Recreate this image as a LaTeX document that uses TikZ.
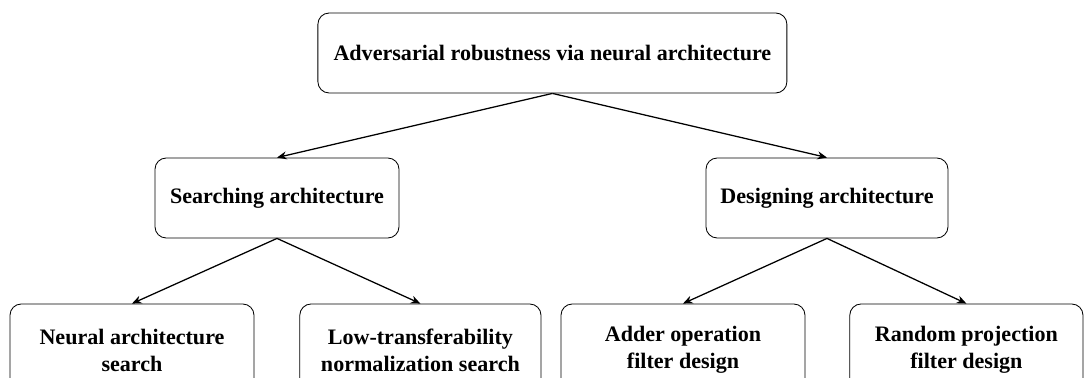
\documentclass[tikz,border=0pt]{standalone}
\usepackage{fontspec}
\setmainfont{Liberation Serif}
\usetikzlibrary{arrows.meta, positioning}

\begin{document}
\begin{tikzpicture}[
    box/.style={rectangle, draw, line width=0.6pt, rounded corners=8pt, minimum width=#1, minimum height=2cm, align=center, inner sep=2pt, font=\fontsize{15.7}{19.2}\selectfont\bfseries},
    box/.default=6.1cm,
    leaf/.style={box=#1, minimum height=2.3cm},
    leaf/.default=6.1cm,
    arrow/.style={-{Stealth[length=2.4mm, width=2mm]}, line width=0.9pt}
]
\clip (0,0) rectangle (27.125,-9.45);

% Root
\node[box=11.725cm] (root) at (13.81,-1.325) {Adversarial robustness via neural architecture};

% Second level
\node[box=6.1cm] (search) at (6.925,-4.95) {Searching architecture};
\node[box=6.05cm] (design) at (20.675,-4.95) {Designing architecture};

% Leaves (cut off at the bottom edge)
\node[leaf=6.1cm] (nas) at (3.3,-8.75) {Neural architecture\\search};
\node[leaf=6.03cm] (lowt) at (10.51,-8.75) {Low-transferability\\normalization search};
\node[leaf=6.1cm] (adder) at (17.075,-8.75) {Adder operation\\filter design};
\node[leaf=5.83cm] (randp) at (24.16,-8.75) {Random projection\\filter design};

% Arrows
\draw[arrow] (root.south) -- (search.north);
\draw[arrow] (root.south) -- (design.north);
\draw[arrow] (search.south) -- (nas.north);
\draw[arrow] (search.south) -- (lowt.north);
\draw[arrow] (design.south) -- (adder.north);
\draw[arrow] (design.south) -- (randp.north);
\end{tikzpicture}
\end{document}
